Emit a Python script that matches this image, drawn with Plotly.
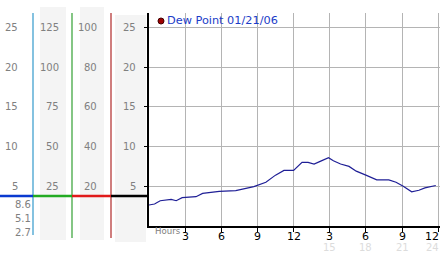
import plotly.graph_objects as go

# ---- data ----
hours = [0, 0.46, 0.93, 1.84, 2.26, 2.75, 3.9, 4.45, 5.83, 7.2, 8.7, 9.7, 10.5, 11.2,
         12.0, 12.7, 13.2, 13.7, 14.3, 14.9, 15.3, 15.9, 16.6, 17.2, 18.0, 18.9,
         19.9, 20.5, 21.1, 21.8, 22.4, 22.9, 23.8]
dew_point = [2.64, 2.77, 3.18, 3.36, 3.18, 3.56, 3.69, 4.1, 4.36, 4.44, 4.95, 5.5, 6.4, 7.0,
             7.0, 8.0, 8.0, 7.8, 8.2, 8.6, 8.2, 7.8, 7.5, 6.9, 6.4, 5.8,
             5.8, 5.5, 5.0, 4.3, 4.5, 4.8, 5.1]
series_name = "Dew Point 01/21/06"

x_tickvals = [3, 6, 9, 12, 15, 18, 21, 24]
x_ticktext = ["3", "6", "9", "12", "3", "6", "9", "12"]
x_second_vals = [15, 18, 21, 24]
x_second_text = ["15", "18", "21", "24"]

scale_vals = [25, 20, 15, 10, 5]
col1_text = ["25", "20", "15", "10", "5"]
col2_text = ["125", "100", "75", "50", "25"]
col3_text = ["100", "80", "60", "40", "20"]
col4_text = ["25", "20", "15", "10", "5"]
lower_text = ["8.6", "5.1", "2.7"]

W, H = 442, 253


def px(x):
    return x / W


def py(y):
    return 1 - y / H


fig = go.Figure()
fig.add_trace(go.Scatter(x=hours, y=dew_point, mode="lines",
                         line=dict(color="#1f1f96", width=1.2),
                         showlegend=False, hoverinfo="skip"))

font = "DejaVu Sans"
fig.update_layout(
    width=W, height=H, autosize=False,
    margin=dict(l=0, r=0, t=0, b=0),
    paper_bgcolor="white", plot_bgcolor="white",
    showlegend=False,
    xaxis=dict(domain=[px(149), px(440)], range=[0, 24.15],
               tickvals=x_tickvals, showticklabels=False,
               ticks="outside", ticklen=4, tickwidth=1, tickcolor="black",
               showgrid=True, gridcolor="#b4b4b4", gridwidth=1,
               showline=True, linecolor="black", linewidth=2,
               zeroline=False, fixedrange=True),
    yaxis=dict(domain=[py(226), py(13)], range=[0, 26.8],
               tickvals=scale_vals, showticklabels=False,
               ticks="outside", ticklen=3, tickwidth=1, tickcolor="black",
               showgrid=True, gridcolor="#b4b4b4", gridwidth=1,
               showline=True, linecolor="black", linewidth=2,
               zeroline=False, fixedrange=True),
)

shapes = []
# gray bands
for x0, x1, y0, y1 in [(40, 66, 7, 240), (80, 104, 7, 240), (115, 146, 15, 242)]:
    shapes.append(dict(type="rect", xref="paper", yref="paper",
                       x0=px(x0), x1=px(x1), y0=py(y1), y1=py(y0),
                       fillcolor="#f4f4f4", line=dict(width=0), layer="below"))
# vertical colored lines
for x, col, y1 in [(33, "#3399cc", 235), (72, "#33a033", 238), (111, "#b02828", 238)]:
    shapes.append(dict(type="line", xref="paper", yref="paper",
                       x0=px(x), x1=px(x), y0=py(y1), y1=py(13),
                       line=dict(color=col, width=1.2)))
# horizontal colored marker line
for x0, x1, col in [(0, 33, "#0a3ad0"), (33, 72, "#22aa22"), (72, 111, "#e01a1a"), (111, 149, "black")]:
    shapes.append(dict(type="line", xref="paper", yref="paper",
                       x0=px(x0), x1=px(x1), y0=py(196), y1=py(196),
                       line=dict(color=col, width=2.5)))
# legend dot
shapes.append(dict(type="circle", xref="paper", yref="paper",
                   x0=px(158), x1=px(164), y0=py(24), y1=py(18),
                   fillcolor="#a00000", line=dict(color="#400000", width=1)))
fig.update_layout(shapes=shapes)

ann = []
gray = "#808080"
for cols, xr in [(col1_text, 20), (col2_text, 61), (col3_text, 99), (col4_text, 137.5)]:
    for v, t in zip(scale_vals, cols):
        ann.append(dict(x=px(xr), y=v, xref="paper", yref="y", text=t, showarrow=False,
                        xanchor="right", yanchor="middle",
                        font=dict(family=font, size=10, color=gray)))
for t, yy in zip(lower_text, [204, 218, 232]):
    ann.append(dict(x=px(12.5), y=py(yy), xref="paper", yref="paper", text=t, showarrow=False,
                    xanchor="left", yanchor="middle",
                    font=dict(family=font, size=10, color=gray)))
ann.append(dict(x=px(153), y=py(231), xref="paper", yref="paper", text="Hours", showarrow=False,
                xanchor="left", yanchor="middle", font=dict(family=font, size=8.6, color=gray)))
# x tick labels (main row)
for i, (v, t) in enumerate(zip(x_tickvals, x_ticktext)):
    last = i == len(x_tickvals) - 1
    ann.append(dict(x=v, y=py(236.5), xref="x", yref="paper", text=t, showarrow=False,
                    xanchor="right" if last else "center", yanchor="middle",
                    xshift=3 if last else 0,
                    font=dict(family=font, size=11, color="black")))
# second row (faint)
for i, (v, t) in enumerate(zip(x_second_vals, x_second_text)):
    last = i == len(x_second_vals) - 1
    ann.append(dict(x=v, y=py(247.5), xref="x", yref="paper", text=t, showarrow=False,
                    xanchor="right" if last else "center", yanchor="middle",
                    xshift=3 if last else 0,
                    font=dict(family=font, size=10, color="#dcdcdc")))
ann.append(dict(x=px(165), y=py(20.5), xref="paper", yref="paper", text=series_name,
                showarrow=False, xanchor="left", yanchor="middle",
                font=dict(family=font, size=11.3, color="#1a3cc8")))
fig.update_layout(annotations=ann)

fig.write_html("out.html")
